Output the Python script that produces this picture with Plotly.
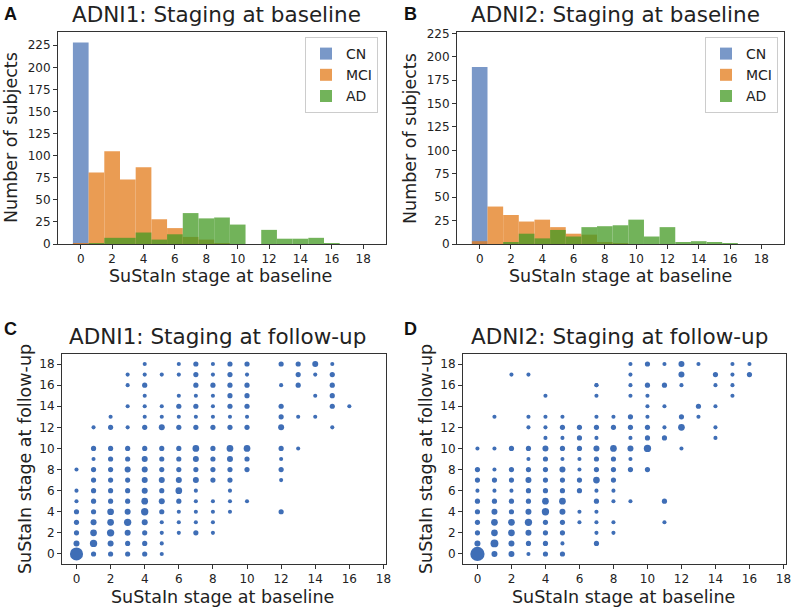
import plotly.graph_objects as go
import math

# ---------------- data ----------------
stages = list(range(19))

# Panel A: ADNI1 baseline histogram (counts per SuStaIn stage)
a_cn = [228, 0, 0, 0, 0, 0, 0, 0, 0, 0, 0, 0, 0, 0, 0, 0, 0, 0, 0]
a_mci = [1, 81, 105, 73, 87, 28, 18, 8, 5, 1, 0, 0, 0, 0, 0, 0, 0, 0, 0]
a_ad = [0, 1, 7, 7, 13, 5, 11, 35, 29, 30, 22, 0, 16, 6, 6, 7, 1, 0, 0]

# Panel B: ADNI2 baseline histogram
b_cn = [189, 0, 0, 0, 0, 0, 0, 0, 0, 0, 0, 0, 0, 0, 0, 0, 0, 0, 0]
b_mci = [3, 40, 31, 24, 26, 18, 11, 10, 2, 1, 0, 0, 0, 0, 0, 0, 0, 0, 0]
b_ad = [0, 0, 2, 11, 6, 15, 8, 18, 19, 20, 26, 8, 18, 2, 3, 2, 1, 0, 0]

# Panel C: ADNI1 baseline stage vs follow-up stage (estimated relative counts)
c_base = (
    [0] * 8 + [1] * 12 + [2] * 13 + [3] * 15 + [4] * 18 + [5] * 15 + [6] * 15 +
    [7] * 16 + [8] * 15 + [9] * 14 + [10] * 11 + [12] * 10 + [13] * 5 + [14] * 4 +
    [15] * 6 + [16] * 1
)
c_follow = (
    [0, 1, 2, 3, 4, 5, 6, 8] +
    [0, 1, 2, 3, 4, 5, 6, 7, 8, 9, 10, 12] +
    [0, 1, 2, 3, 4, 5, 6, 7, 8, 9, 10, 12, 13] +
    [0, 1, 2, 3, 4, 5, 6, 7, 8, 9, 10, 12, 14, 16, 17] +
    [0, 1, 2, 3, 4, 5, 6, 7, 8, 9, 10, 12, 13, 14, 15, 16, 17, 18] +
    [0, 1, 2, 3, 4, 5, 6, 7, 8, 9, 10, 12, 13, 14, 17] +
    [2, 3, 4, 5, 6, 7, 8, 9, 10, 12, 13, 14, 15, 17, 18] +
    [2, 3, 4, 5, 6, 7, 8, 9, 10, 12, 13, 14, 15, 16, 17, 18] +
    [2, 3, 4, 5, 7, 8, 9, 10, 12, 13, 14, 15, 16, 17, 18] +
    [4, 5, 6, 7, 8, 9, 10, 12, 13, 14, 15, 16, 17, 18] +
    [5, 8, 9, 10, 12, 13, 14, 15, 16, 17, 18] +
    [4, 7, 8, 9, 10, 12, 13, 14, 16, 18] +
    [10, 13, 16, 17, 18] +
    [13, 15, 17, 18] +
    [12, 14, 15, 16, 17, 18] +
    [14]
)
c_count = (
    [20, 3, 2, 2, 2, 1, 1, 1] +
    [2, 5, 4, 3, 2, 2, 2, 2, 2, 1, 2, 1] +
    [2, 3, 5, 4, 4, 2, 2, 2, 2, 2, 2, 2, 1] +
    [2, 2, 3, 5, 3, 2, 2, 2, 3, 2, 2, 1, 1, 1, 1] +
    [2, 2, 2, 3, 5, 4, 3, 3, 3, 3, 2, 2, 1, 1, 1, 2, 1, 1] +
    [1, 1, 1, 1, 2, 3, 2, 3, 2, 2, 2, 3, 1, 1, 1] +
    [1, 1, 1, 2, 4, 3, 2, 2, 2, 2, 1, 2, 1, 1, 1] +
    [2, 1, 1, 1, 1, 3, 2, 3, 4, 2, 1, 2, 1, 2, 2, 2] +
    [1, 1, 1, 1, 2, 2, 2, 2, 2, 1, 1, 1, 2, 1, 1] +
    [1, 1, 1, 2, 2, 3, 4, 2, 1, 2, 2, 2, 2, 2] +
    [1, 2, 2, 4, 2, 1, 2, 2, 2, 1, 2] +
    [2, 1, 2, 1, 2, 3, 2, 2, 1, 2] +
    [1, 1, 2, 2, 2] +
    [1, 1, 1, 3] +
    [1, 2, 2, 2, 2, 1] +
    [1]
)

# Panel D: ADNI2 baseline stage vs follow-up stage
d_base = (
    [0] * 10 + [1] * 11 + [2] * 11 + [3] * 14 + [4] * 15 + [5] * 14 + [6] * 9 +
    [7] * 16 + [8] * 10 + [9] * 11 + [10] * 9 + [11] * 7 + [12] * 6 + [13] * 3 +
    [14] * 5 + [15] * 4 + [16] * 2
)
d_follow = (
    [0, 1, 2, 3, 4, 5, 6, 7, 8, 10] +
    [0, 1, 2, 3, 4, 5, 6, 7, 8, 10, 13] +
    [0, 1, 2, 3, 4, 5, 6, 7, 8, 10, 17] +
    [0, 1, 2, 3, 4, 5, 6, 7, 8, 9, 10, 12, 13, 17] +
    [0, 1, 2, 3, 4, 5, 6, 7, 8, 9, 10, 11, 12, 13, 15] +
    [0, 1, 2, 3, 4, 5, 6, 7, 8, 9, 10, 11, 12, 13] +
    [3, 4, 6, 7, 8, 9, 10, 11, 12] +
    [1, 2, 3, 4, 5, 6, 7, 8, 9, 10, 11, 12, 13, 15, 16, 16] +
    [2, 3, 5, 6, 7, 8, 9, 10, 12, 13] +
    [5, 8, 9, 10, 11, 12, 13, 15, 16, 17, 18] +
    [8, 10, 11, 12, 13, 14, 15, 16, 18] +
    [3, 5, 11, 12, 14, 16, 18] +
    [10, 12, 13, 16, 17, 18] +
    [13, 14, 18] +
    [11, 12, 14, 16, 17] +
    [15, 16, 17, 18] +
    [17, 18]
)
d_count = (
    [24, 3, 2, 2, 2, 2, 1, 2, 2, 1] +
    [3, 6, 4, 4, 3, 2, 1, 2, 1, 1, 1] +
    [3, 3, 4, 4, 2, 2, 1, 2, 2, 2, 1] +
    [1, 2, 3, 5, 3, 2, 2, 3, 2, 1, 2, 1, 1, 1] +
    [2, 2, 2, 2, 5, 4, 2, 2, 2, 2, 3, 1, 1, 1, 1] +
    [2, 1, 2, 2, 3, 4, 2, 2, 3, 1, 2, 1, 2, 1] +
    [1, 1, 2, 2, 1, 1, 2, 2, 2] +
    [2, 1, 1, 1, 2, 1, 4, 2, 2, 3, 1, 2, 1, 1, 1, 1] +
    [1, 1, 1, 1, 2, 2, 2, 4, 2, 1] +
    [1, 2, 1, 3, 1, 2, 2, 1, 1, 1, 1] +
    [2, 5, 2, 2, 1, 1, 1, 2, 2] +
    [1, 2, 2, 1, 1, 2, 1] +
    [1, 4, 2, 1, 3, 3] +
    [1, 2, 1] +
    [1, 1, 1, 1, 2] +
    [1, 1, 1, 1] +
    [2, 1]
)

group_names = ["CN", "MCI", "AD"]
titles = ["ADNI1: Staging at baseline", "ADNI2: Staging at baseline",
          "ADNI1: Staging at follow-up", "ADNI2: Staging at follow-up"]
panel_letters = ["A", "B", "C", "D"]
x_titles = ["SuStaIn stage at baseline"] * 4
y_titles = ["Number of subjects", "Number of subjects",
            "SuStaIn stage at follow-up", "SuStaIn stage at follow-up"]
hist_ticks = list(range(0, 19, 2))
count_ticks = list(range(0, 226, 25))
stage_ticks = list(range(0, 19, 2))

# ---------------- styling ----------------
W, H = 794, 607
bar_colors = ["#4d76b6", "#e47b1a", "#449a24"]
dot_color = "#3f6eb6"
txt = "#222222"
line_col = "#333333"
FONT = "DejaVu Sans"

fig = go.Figure()

for (cn, mci, ad), ax, lg in [((a_cn, a_mci, a_ad), ("x", "y"), "legend"),
                              ((b_cn, b_mci, b_ad), ("x2", "y2"), "legend2")]:
    for vals, name, col in zip((cn, mci, ad), group_names, bar_colors):
        fig.add_trace(go.Bar(
            x=stages, y=vals, name=name, width=1.0,
            marker=dict(color=col, line=dict(width=0)),
            opacity=0.75, xaxis=ax[0], yaxis=ax[1], legend=lg,
        ))

for bx, fy, cnt, ax in [(c_base, c_follow, c_count, ("x3", "y3")),
                        (d_base, d_follow, d_count, ("x4", "y4"))]:
    fig.add_trace(go.Scatter(
        x=bx, y=fy, mode="markers", showlegend=False,
        marker=dict(color=dot_color, size=[1.5 + 2.6 * math.sqrt(c) for c in cnt],
                    line=dict(width=0), opacity=1),
        xaxis=ax[0], yaxis=ax[1],
    ))

def px_x(p):
    return p / W

def px_y(p):
    return 1 - p / H

common = dict(showline=True, linecolor=line_col, linewidth=1, mirror=True,
              ticks="outside", ticklen=4, tickcolor=line_col, showgrid=False,
              zeroline=False, automargin=False,
              tickfont=dict(family=FONT, size=12, color=txt))

legend_style = dict(xanchor="right", yanchor="top",
                    bordercolor="#cccccc", borderwidth=1, bgcolor="rgba(255,255,255,0.8)",
                    font=dict(family=FONT, size=14, color=txt), itemwidth=30,
                    tracegroupgap=0)

fig.update_layout(
    width=W, height=H, margin=dict(l=0, r=0, t=0, b=0, autoexpand=False),
    paper_bgcolor="white", plot_bgcolor="white", barmode="overlay",
    font=dict(family=FONT, color=txt),
    xaxis=dict(domain=[px_x(58), px_x(386)], anchor="y", range=[-1.45, 19.45],
               tickvals=hist_ticks, **common),
    yaxis=dict(domain=[px_y(244), px_y(32)], anchor="x", range=[0, 240],
               tickvals=count_ticks, **common),
    xaxis2=dict(domain=[px_x(457), px_x(784)], anchor="y2", range=[-1.45, 19.45],
                tickvals=hist_ticks, **common),
    yaxis2=dict(domain=[px_y(244), px_y(32)], anchor="x2", range=[0, 226.4],
                tickvals=count_ticks, **common),
    xaxis3=dict(domain=[px_x(62), px_x(386)], anchor="y3", range=[-0.85, 18.15],
                tickvals=stage_ticks, **common),
    yaxis3=dict(domain=[px_y(564), px_y(354)], anchor="x3", range=[-0.95, 18.95],
                tickvals=stage_ticks, **common),
    xaxis4=dict(domain=[px_x(463), px_x(786)], anchor="y4", range=[-0.85, 18.15],
                tickvals=stage_ticks, **common),
    yaxis4=dict(domain=[px_y(564), px_y(354)], anchor="x4", range=[-0.95, 18.95],
                tickvals=stage_ticks, **common),
    legend=dict(x=px_x(378), y=px_y(37), **legend_style),
    legend2=dict(x=px_x(778), y=px_y(37), **legend_style),
)

def note(text, cx, cy, size, angle=0, family=FONT, xanchor="center", yanchor="middle", color=txt):
    fig.add_annotation(text=text, x=px_x(cx), y=px_y(cy), xref="paper", yref="paper",
                       xanchor=xanchor, yanchor=yanchor, showarrow=False, textangle=angle,
                       font=dict(family=family, size=size, color=color))

# panel titles
for t, (cx, cy) in zip(titles, [(216, 14), (615, 14), (217, 336), (619, 336)]):
    note(t, cx, cy, 21.5)
# x-axis titles
for t, (cx, cy) in zip(x_titles, [(220, 276), (620, 276), (222, 597), (623, 597)]):
    note(t, cx, cy, 17.5)
# y-axis titles
for t, (cx, cy) in zip(y_titles, [(11, 138), (410, 138), (25, 459), (426, 459)]):
    note(t, cx, cy, 17.5, angle=-90)
# panel letters
for t, (lx, ly) in zip(panel_letters, [(2, 2), (402, 2), (2, 317), (402, 317)]):
    note("<b>" + t + "</b>", lx, ly, 18, family="Liberation Sans",
         xanchor="left", yanchor="top", color="#111111")

# remove the default page margin so the figure starts at the window's corner
fix_page = ("document.body.style.margin='0';"
            "document.body.style.padding='0';"
            "document.body.style.overflow='hidden';")
fig.write_html("out.html", post_script=fix_page, config={"displayModeBar": False})
